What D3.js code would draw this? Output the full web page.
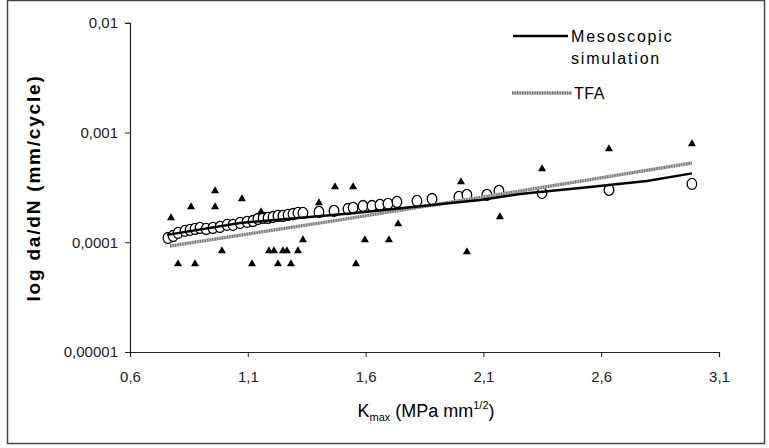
<!DOCTYPE html>
<html>
<head>
<meta charset="utf-8">
<script src="https://cdn.jsdelivr.net/npm/d3@7"></script>
<style>
  body { margin: 0; background: #fff; }
  svg { display: block; font-family: "Liberation Sans", Arial, sans-serif; }
</style>
</head>
<body>
<script>
const width = 769;
const height = 448;

// axis ticks
const kTicks = [0.6, 1.1, 1.6, 2.1, 2.6, 3.1];
const kTickLabels = ["0,6", "1,1", "1,6", "2,1", "2,6", "3,1"];
const vTicks = [0.00001, 0.0001, 0.001, 0.01];
const vTickLabels = ["0,00001", "0,0001", "0,001", "0,01"];

// simulated points (open circles)
const simK = [0.761, 0.783, 0.804, 0.833, 0.855, 0.876, 0.897, 0.923, 0.952, 0.982,
  1.012, 1.037, 1.067, 1.097, 1.122, 1.143, 1.165, 1.186, 1.207, 1.228,
  1.249, 1.271, 1.292, 1.313, 1.334, 1.402, 1.466, 1.525, 1.547, 1.589,
  1.627, 1.661, 1.695, 1.733, 1.818, 1.882, 1.996, 2.03, 2.115, 2.166,
  2.349, 2.633, 2.985];
const simV = [1.094e-4, 1.14e-4, 1.216e-4, 1.268e-4, 1.295e-4, 1.322e-4, 1.35e-4, 1.322e-4, 1.35e-4, 1.379e-4,
  1.438e-4, 1.438e-4, 1.5e-4, 1.531e-4, 1.563e-4, 1.63e-4, 1.667e-4, 1.667e-4, 1.7e-4, 1.738e-4,
  1.738e-4, 1.774e-4, 1.81e-4, 1.85e-4, 1.85e-4, 1.89e-4, 1.93e-4, 2.01e-4, 2.06e-4, 2.14e-4,
  2.14e-4, 2.19e-4, 2.24e-4, 2.33e-4, 2.38e-4, 2.48e-4, 2.59e-4, 2.7e-4, 2.7e-4, 2.94e-4,
  2.81e-4, 3.0e-4, 3.4e-4];

// experimental points (filled triangles)
const expK = [0.774, 0.859, 0.961, 0.961, 1.075, 1.156, 1.47, 1.547, 1.402, 1.334,
  0.99, 1.19, 1.211, 1.249, 1.266, 1.313, 0.804, 0.876, 1.118, 1.228,
  1.283, 2.005, 1.738, 2.17, 1.597, 1.699, 2.03, 1.559, 2.349, 2.633, 2.985];
const expV = [1.67e-4, 2.1e-4, 2.94e-4, 2.1e-4, 2.48e-4, 1.89e-4, 3.19e-4, 3.19e-4, 2.28e-4, 1.05e-4,
  8.34e-5, 8.34e-5, 8.34e-5, 8.34e-5, 8.34e-5, 8.34e-5, 6.34e-5, 6.34e-5, 6.34e-5, 6.34e-5,
  6.34e-5, 3.55e-4, 1.47e-4, 1.7e-4, 1.05e-4, 1.05e-4, 8.17e-5, 6.34e-5, 4.66e-4, 7.1e-4, 7.87e-4];

// mesoscopic simulation curve
const mesoK = [0.757, 1.067, 1.534, 2.086, 2.255, 2.552, 2.794, 2.985];
const mesoV = [1.167e-4, 1.5e-4, 1.83e-4, 2.43e-4, 2.75e-4, 3.19e-4, 3.62e-4, 4.24e-4];

// TFA curve
const tfaK = [0.77, 1.491, 2.086, 2.985];
const tfaV = [9.25e-5, 1.6e-4, 2.56e-4, 5.28e-4];

const svg = d3.select("body").append("svg")
  .attr("width", width)
  .attr("height", height);

// outer frame
svg.append("rect")
  .attr("x", 7.5).attr("y", 0.5)
  .attr("width", 757).attr("height", 443)
  .attr("fill", "none")
  .attr("stroke", "#444")
  .attr("stroke-width", 1.5);

const xScale = d3.scaleLinear().domain([0.6, 3.1]).range([130, 719]);
const yScale = d3.scaleLog().domain([1e-5, 1e-2]).range([352, 22.8]);

// axes
const xAxis = d3.axisBottom(xScale)
  .tickValues(kTicks)
  .tickSize(5)
  .tickFormat((d, i) => kTickLabels[i]);
const yAxis = d3.axisLeft(yScale)
  .tickValues(vTicks)
  .tickSize(5)
  .tickFormat((d, i) => vTickLabels[i]);

const gx = svg.append("g")
  .attr("transform", `translate(0, ${yScale(1e-5)})`)
  .call(xAxis);
const gy = svg.append("g")
  .attr("transform", `translate(${xScale(0.6)}, 0)`)
  .call(yAxis);

[gx, gy].forEach((g) => {
  g.select(".domain").attr("stroke", "#222").attr("stroke-width", 1.2);
  g.selectAll(".tick line").attr("stroke", "#222");
  g.selectAll(".tick text")
    .attr("fill", "#222")
    .style("font-size", "15px")
    .style("font-family", "Liberation Sans, Arial, sans-serif");
});
gx.selectAll(".tick text").attr("dy", "1.45em");
gy.selectAll(".tick text").attr("x", -12);

// axis titles
svg.append("text")
  .attr("transform", "translate(40, 188) rotate(-90)")
  .attr("text-anchor", "middle")
  .style("font-size", "19px")
  .style("font-weight", "bold")
  .style("letter-spacing", "1.8px")
  .text("log da/dN (mm/cycle)");

const xt = svg.append("text")
  .attr("x", 426)
  .attr("y", 417)
  .attr("text-anchor", "middle")
  .style("font-size", "18px");
xt.append("tspan").text("K");
xt.append("tspan").attr("dy", 4).style("font-size", "11px").text("max");
xt.append("tspan").attr("dy", -4).text(" (MPa mm");
xt.append("tspan").attr("dy", -8).style("font-size", "11px").text("1/2");
xt.append("tspan").attr("dy", 8).text(")");

// curves
const line = d3.line()
  .x((d) => xScale(d[0]))
  .y((d) => yScale(d[1]));

const tfaData = tfaK.map((k, i) => [k, tfaV[i]]);
const mesoData = mesoK.map((k, i) => [k, mesoV[i]]);

// points
svg.append("g")
  .selectAll("ellipse")
  .data(simK.map((k, i) => [k, simV[i]]))
  .enter()
  .append("ellipse")
  .attr("cx", (d) => xScale(d[0]))
  .attr("cy", (d) => yScale(d[1]))
  .attr("rx", 4.8)
  .attr("ry", 5.5)
  .attr("fill", "#fff")
  .attr("stroke", "#000")
  .attr("stroke-width", 1.3);

svg.append("g")
  .selectAll("path")
  .data(expK.map((k, i) => [k, expV[i]]))
  .enter()
  .append("path")
  .attr("d", d3.symbol().type(d3.symbolTriangle).size(28))
  .attr("transform", (d) => `translate(${xScale(d[0])}, ${yScale(d[1])})`)
  .attr("fill", "#000");

svg.append("path")
  .datum(tfaData)
  .attr("d", line)
  .attr("fill", "none")
  .attr("stroke", "#bdbdbd")
  .attr("stroke-width", 3.5);
svg.append("path")
  .datum(tfaData)
  .attr("d", line)
  .attr("fill", "none")
  .attr("stroke", "#707070")
  .attr("stroke-width", 3)
  .attr("stroke-dasharray", "1.2 1.3");

svg.append("path")
  .datum(mesoData)
  .attr("d", line)
  .attr("fill", "none")
  .attr("stroke", "#000")
  .attr("stroke-width", 2.4);

// legend
const legend = svg.append("g");
legend.append("line")
  .attr("x1", 513).attr("x2", 568)
  .attr("y1", 36).attr("y2", 36)
  .attr("stroke", "#000").attr("stroke-width", 2.4);
legend.append("text")
  .attr("x", 571).attr("y", 42)
  .style("font-size", "16px")
  .style("letter-spacing", "1.8px")
  .text("Mesoscopic");
legend.append("text")
  .attr("x", 571).attr("y", 64)
  .style("font-size", "16px")
  .style("letter-spacing", "1.8px")
  .text("simulation");
legend.append("line")
  .attr("x1", 512).attr("x2", 572)
  .attr("y1", 93).attr("y2", 93)
  .attr("stroke", "#bdbdbd").attr("stroke-width", 3.5);
legend.append("line")
  .attr("x1", 512).attr("x2", 572)
  .attr("y1", 93).attr("y2", 93)
  .attr("stroke", "#707070").attr("stroke-width", 3)
  .attr("stroke-dasharray", "1.2 1.3");
legend.append("text")
  .attr("x", 574).attr("y", 99)
  .style("font-size", "16px")
  .style("letter-spacing", "0.6px")
  .text("TFA");
</script>
</body>
</html>
